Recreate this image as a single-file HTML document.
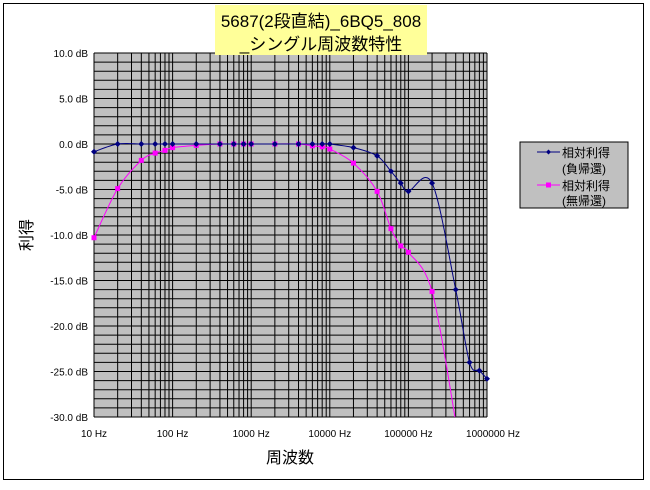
<!DOCTYPE html>
<html><head><meta charset="utf-8"><style>
body{margin:0;background:#fff;width:650px;height:485px;overflow:hidden;font-family:"Liberation Sans","Noto Sans CJK JP",sans-serif}
</style></head><body>
<svg width="650" height="485" xmlns="http://www.w3.org/2000/svg" style="font-family:'Liberation Sans','Noto Sans CJK JP',sans-serif">
<rect x="3.5" y="3.5" width="640" height="476" fill="#fff" stroke="#000"/>
<rect x="94" y="53" width="393" height="364" fill="#c0c0c0"/>
<g id="grid"></g>
<g id="axes"></g>
<g id="series"></g>
<rect x="215" y="5" width="212" height="50" fill="#ffff99"/>
<text x="321" y="27" font-size="17" text-anchor="middle">5687(2段直結)_6BQ5_808</text>
<text x="321" y="50" font-size="17" text-anchor="middle">_シングル周波数特性</text>
<text x="290" y="463" font-size="16" text-anchor="middle">周波数</text>
<text transform="translate(32,235) rotate(-90)" font-size="16" text-anchor="middle">利得</text>
<g>
<rect x="520" y="142" width="108" height="66" fill="#c0c0c0" stroke="#000"/>
<line x1="537" y1="152" x2="560" y2="152" stroke="#000080"/>
<path d="M548.5 149.5 L551 152 L548.5 154.5 L546 152Z" fill="#000080"/>
<text x="562" y="157" font-size="12">相対利得</text>
<text x="562" y="173" font-size="12">(負帰還)</text>
<line x1="537" y1="185" x2="560" y2="185" stroke="#ff00ff"/>
<rect x="546" y="182.5" width="5" height="5" fill="#ff00ff"/>
<text x="562" y="190" font-size="12">相対利得</text>
<text x="562" y="205" font-size="12">(無帰還)</text>
</g>
</svg>
<script>
const yTicks=[10,5,0,-5,-10,-15,-20,-25,-30];
const yTickLabels=["10.0 dB","5.0 dB","0.0 dB","-5.0 dB","-10.0 dB","-15.0 dB","-20.0 dB","-25.0 dB","-30.0 dB"];
const xTicks=[10,100,1000,10000,100000,1000000];
const xTickLabels=["10 Hz","100 Hz","1000 Hz","10000 Hz","100000 Hz","1000000 Hz"];
const fbFreq=[10,20,40,60,80,100,200,400,600,800,1000,2000,4000,6000,8000,10000,20000,40000,60000,80000,100000,200000,400000,600000,800000,1000000];
const fbGain=[-0.85,0,0,0,0,0,0,0,0,0,0,0,0,0,0,0,-0.4,-1.3,-3.0,-4.3,-5.2,-4.3,-16.0,-24.0,-24.9,-25.8];
const nfFreq=[10,20,40,60,80,100,200,400,600,800,1000,2000,4000,6000,8000,10000,20000,40000,60000,80000,100000,200000,400000];
const nfGain=[-10.3,-4.9,-1.8,-1.0,-0.7,-0.4,-0.15,0,0,0,0,0,0,-0.2,-0.3,-0.55,-2.1,-5.2,-9.3,-11.2,-11.9,-16.2,-30.5];
const X0=94,X1=487,Y0=53,Y1=417;
const xs=f=>X0+(Math.log10(f)-1)/5*(X1-X0);
const ys=v=>Y0+(10-v)/40*(Y1-Y0);
const NS="http://www.w3.org/2000/svg";
function mk(t,a,p){const e=document.createElementNS(NS,t);for(const k in a)e.setAttribute(k,a[k]);p.appendChild(e);return e;}
const grid=document.getElementById('grid'),axes=document.getElementById('axes'),ser=document.getElementById('series');
for(let v=-30;v<=10;v++){const l=mk('line',{x1:X0,x2:X1,y1:ys(v),y2:ys(v),stroke:'#000','stroke-width':1},grid);

}
for(let d=1;d<=6;d++)for(let m=1;m<=9;m++){const f=m*Math.pow(10,d);if(f>1e6)break;const x=xs(f);const l=mk('line',{x1:x,x2:x,y1:Y0,y2:Y1,stroke:'#000','stroke-width':1},grid);

}
mk('line',{x1:X0,x2:X0,y1:Y0,y2:Y1,stroke:'#000'},axes);
mk('line',{x1:X0,x2:X1,y1:Y1,y2:Y1,stroke:'#000'},axes);
yTicks.forEach((v,i)=>{const t=mk('text',{x:X0-6,y:ys(v)+4,'font-size':10,'text-anchor':'end'},axes);t.textContent=yTickLabels[i];

});
xTicks.forEach((f,i)=>{const t=mk('text',{x:xs(f)+(i==5?6:0),y:Y1+20,'font-size':10,'text-anchor':'middle'},axes);t.textContent=xTickLabels[i];

});
function smooth(pts){let d='M'+pts[0][0]+' '+pts[0][1];for(let i=0;i<pts.length-1;i++){const p0=pts[i-1]||pts[i],p1=pts[i],p2=pts[i+1],p3=pts[i+2]||p2;
const c1=[p1[0]+(p2[0]-p0[0])/6,p1[1]+(p2[1]-p0[1])/6],c2=[p2[0]-(p3[0]-p1[0])/6,p2[1]-(p3[1]-p1[1])/6];
d+=' C'+c1.join(' ')+' '+c2.join(' ')+' '+p2.join(' ');}return d;}
mk('clipPath',{id:'clip'},ser).appendChild(document.createElementNS(NS,'rect'));
const cr=ser.querySelector('clipPath rect');cr.setAttribute('x',X0-5);cr.setAttribute('y',Y0);cr.setAttribute('width',X1-X0+10);cr.setAttribute('height',Y1-Y0);
function draw(fr,g,color,name,sq){const grp=mk('g',{'clip-path':'url(#clip)'},ser);


const pts=fr.map((f,i)=>[xs(f),ys(g[i])]);
mk('path',{d:smooth(pts),fill:'none',stroke:color,'stroke-width':1},grp);
pts.forEach(p=>{let m;if(sq)m=mk('rect',{x:p[0]-2.5,y:p[1]-2.5,width:5,height:5,fill:color},grp);
else m=mk('path',{d:`M${p[0]} ${p[1]-3}L${p[0]+3} ${p[1]}L${p[0]} ${p[1]+3}L${p[0]-3} ${p[1]}Z`,fill:color},grp);

});}
draw(nfFreq,nfGain,'#ff00ff','series-no-feedback',true);
draw(fbFreq,fbGain,'#000080','series-feedback',false);
</script>
</body></html>
